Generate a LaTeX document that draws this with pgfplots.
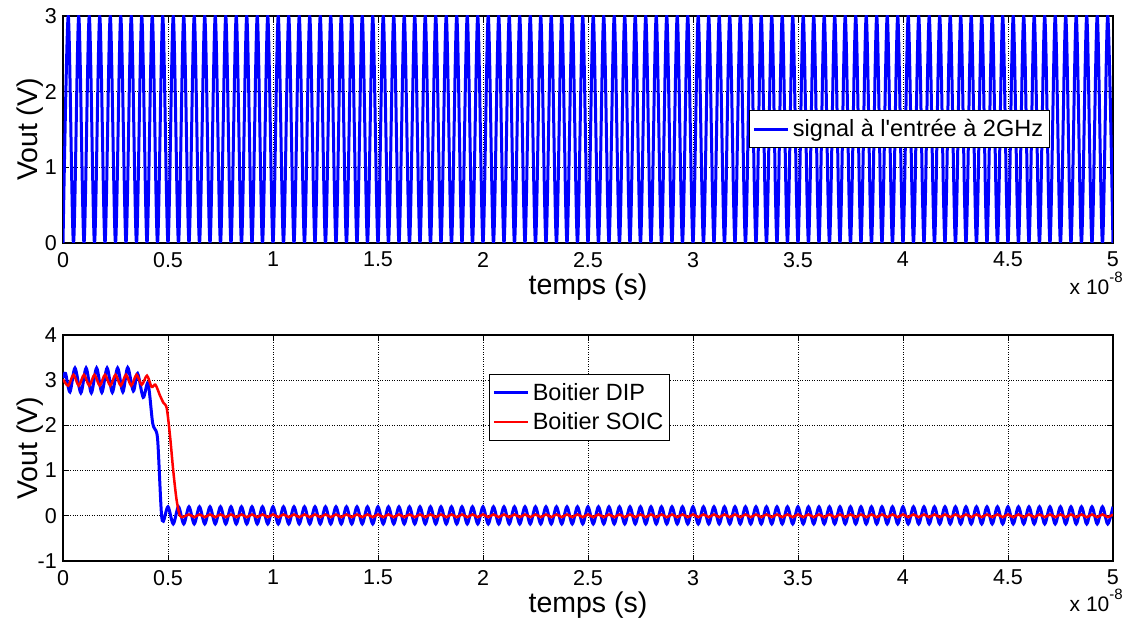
\documentclass[border=0pt]{standalone}
\usepackage{fontspec}
\setmainfont{Liberation Sans}
\usepackage{pgfplots}
\pgfplotsset{compat=1.18}
\definecolor{mblue}{RGB}{0,0,255}
\definecolor{mred}{RGB}{255,0,0}
\pgfplotsset{
  mystyle/.style={
    scale only axis, width=1050pt,
    xmin=0, xmax=5, xtick={0,0.5,1,1.5,2,2.5,3,3.5,4,4.5,5},
    grid=major, major grid style={black, dotted, line width=0.7pt},
    tick align=inside, major tick length=6pt,
    tick style={black, line width=0.8pt},
    axis line style={black, line width=1.2pt},
    tick label style={font=\fontsize{21.5}{25}\selectfont},
    /pgf/number format/assume math mode=true,
    xticklabel style={inner sep=0pt}, yticklabel style={inner sep=0pt},
    xticklabel shift=9pt, yticklabel shift=6pt,
    xlabel={temps (s)}, ylabel={Vout (V)},
    every axis x label/.style={at={(axis description cs:0.5,0)}, anchor=center, yshift=-44pt, font=\fontsize{28.5}{32}\selectfont},
    every axis y label/.style={at={(axis description cs:0,0.5)}, xshift=-33pt, rotate=90, anchor=center, font=\fontsize{28.5}{32}\selectfont},
    legend cell align=left,
    legend style={draw=black, line width=0.8pt, fill=white, font=\fontsize{23.5}{27}\selectfont, anchor=center, inner xsep=3pt, inner ysep=5.5pt, row sep=4pt, nodes={inner sep=3.5pt}},
    legend image code/.code={\draw[#1] (0pt,0pt) -- (34pt,0pt);},
  }
}
\begin{document}
\begin{tikzpicture}
\useasboundingbox (0,0) rectangle (1129pt,621pt);
\begin{axis}[mystyle, name=top, at={(63pt,378pt)}, anchor=south west, height=227pt,
  ymin=0, ymax=3, ytick={0,1,2,3},
  legend style={at={(axis description cs:0.7967,0.502)}}]
\addplot[mblue, line width=3pt, smooth] coordinates {
(0,0)(0.025,3)(0.05,0)(0.075,3)(0.1,0)(0.125,3)(0.15,0)(0.175,3)(0.2,0)(0.225,3)(0.25,0)(0.275,3)(0.3,0)(0.325,3)(0.35,0)(0.375,3)(0.4,0)(0.425,3)(0.45,0)(0.475,3)
(0.5,0)(0.525,3)(0.55,0)(0.575,3)(0.6,0)(0.625,3)(0.65,0)(0.675,3)(0.7,0)(0.725,3)(0.75,0)(0.775,3)(0.8,0)(0.825,3)(0.85,0)(0.875,3)(0.9,0)(0.925,3)(0.95,0)(0.975,3)
(1,0)(1.025,3)(1.05,0)(1.075,3)(1.1,0)(1.125,3)(1.15,0)(1.175,3)(1.2,0)(1.225,3)(1.25,0)(1.275,3)(1.3,0)(1.325,3)(1.35,0)(1.375,3)(1.4,0)(1.425,3)(1.45,0)(1.475,3)
(1.5,0)(1.525,3)(1.55,0)(1.575,3)(1.6,0)(1.625,3)(1.65,0)(1.675,3)(1.7,0)(1.725,3)(1.75,0)(1.775,3)(1.8,0)(1.825,3)(1.85,0)(1.875,3)(1.9,0)(1.925,3)(1.95,0)(1.975,3)
(2,0)(2.025,3)(2.05,0)(2.075,3)(2.1,0)(2.125,3)(2.15,0)(2.175,3)(2.2,0)(2.225,3)(2.25,0)(2.275,3)(2.3,0)(2.325,3)(2.35,0)(2.375,3)(2.4,0)(2.425,3)(2.45,0)(2.475,3)
(2.5,0)(2.525,3)(2.55,0)(2.575,3)(2.6,0)(2.625,3)(2.65,0)(2.675,3)(2.7,0)(2.725,3)(2.75,0)(2.775,3)(2.8,0)(2.825,3)(2.85,0)(2.875,3)(2.9,0)(2.925,3)(2.95,0)(2.975,3)
(3,0)(3.025,3)(3.05,0)(3.075,3)(3.1,0)(3.125,3)(3.15,0)(3.175,3)(3.2,0)(3.225,3)(3.25,0)(3.275,3)(3.3,0)(3.325,3)(3.35,0)(3.375,3)(3.4,0)(3.425,3)(3.45,0)(3.475,3)
(3.5,0)(3.525,3)(3.55,0)(3.575,3)(3.6,0)(3.625,3)(3.65,0)(3.675,3)(3.7,0)(3.725,3)(3.75,0)(3.775,3)(3.8,0)(3.825,3)(3.85,0)(3.875,3)(3.9,0)(3.925,3)(3.95,0)(3.975,3)
(4,0)(4.025,3)(4.05,0)(4.075,3)(4.1,0)(4.125,3)(4.15,0)(4.175,3)(4.2,0)(4.225,3)(4.25,0)(4.275,3)(4.3,0)(4.325,3)(4.35,0)(4.375,3)(4.4,0)(4.425,3)(4.45,0)(4.475,3)
(4.5,0)(4.525,3)(4.55,0)(4.575,3)(4.6,0)(4.625,3)(4.65,0)(4.675,3)(4.7,0)(4.725,3)(4.75,0)(4.775,3)(4.8,0)(4.825,3)(4.85,0)(4.875,3)(4.9,0)(4.925,3)(4.95,0)(4.975,3)
(5,0)};
\addlegendentry{signal à l\textquotesingle entrée à 2GHz}
\end{axis}
\node[anchor=north east, inner sep=0pt, font=\fontsize{21}{24}\selectfont] at ([xshift=10pt,yshift=-29pt]top.south east) {x 10\raisebox{12pt}{\fontsize{15}{17}\selectfont -8}};

\begin{axis}[mystyle, name=bot, at={(63pt,60pt)}, anchor=south west, height=226pt,
  ymin=-1, ymax=4, ytick={-1,0,1,2,3,4},
  legend style={at={(axis description cs:0.492,0.681)}}]
\addplot[mblue, line width=3pt, smooth] coordinates {
(0,3.05)(0.012,3.15)(0.033,2.74)(0.057,3.27)(0.085,2.72)(0.11,3.27)(0.135,2.72)(0.16,3.27)(0.185,2.73)(0.21,3.27)(0.235,2.73)(0.26,3.27)(0.285,2.74)(0.308,3.28)(0.335,2.76)(0.355,3.15)(0.382,2.62)(0.405,2.93)(0.427,2.05)(0.443,1.88)(0.452,1.6)(0.468,0.1)(0.478,-0.12)
(0.5,0.2)(0.525,-0.18)(0.55,0.2)(0.575,-0.18)(0.6,0.2)(0.625,-0.18)(0.65,0.2)(0.675,-0.18)(0.7,0.2)(0.725,-0.18)(0.75,0.2)(0.775,-0.18)(0.8,0.2)(0.825,-0.18)(0.85,0.2)(0.875,-0.18)(0.9,0.2)(0.925,-0.18)(0.95,0.2)(0.975,-0.18)
(1,0.2)(1.025,-0.18)(1.05,0.2)(1.075,-0.18)(1.1,0.2)(1.125,-0.18)(1.15,0.2)(1.175,-0.18)(1.2,0.2)(1.225,-0.18)(1.25,0.2)(1.275,-0.18)(1.3,0.2)(1.325,-0.18)(1.35,0.2)(1.375,-0.18)(1.4,0.2)(1.425,-0.18)(1.45,0.2)(1.475,-0.18)
(1.5,0.2)(1.525,-0.18)(1.55,0.2)(1.575,-0.18)(1.6,0.2)(1.625,-0.18)(1.65,0.2)(1.675,-0.18)(1.7,0.2)(1.725,-0.18)(1.75,0.2)(1.775,-0.18)(1.8,0.2)(1.825,-0.18)(1.85,0.2)(1.875,-0.18)(1.9,0.2)(1.925,-0.18)(1.95,0.2)(1.975,-0.18)
(2,0.2)(2.025,-0.18)(2.05,0.2)(2.075,-0.18)(2.1,0.2)(2.125,-0.18)(2.15,0.2)(2.175,-0.18)(2.2,0.2)(2.225,-0.18)(2.25,0.2)(2.275,-0.18)(2.3,0.2)(2.325,-0.18)(2.35,0.2)(2.375,-0.18)(2.4,0.2)(2.425,-0.18)(2.45,0.2)(2.475,-0.18)
(2.5,0.2)(2.525,-0.18)(2.55,0.2)(2.575,-0.18)(2.6,0.2)(2.625,-0.18)(2.65,0.2)(2.675,-0.18)(2.7,0.2)(2.725,-0.18)(2.75,0.2)(2.775,-0.18)(2.8,0.2)(2.825,-0.18)(2.85,0.2)(2.875,-0.18)(2.9,0.2)(2.925,-0.18)(2.95,0.2)(2.975,-0.18)
(3,0.2)(3.025,-0.18)(3.05,0.2)(3.075,-0.18)(3.1,0.2)(3.125,-0.18)(3.15,0.2)(3.175,-0.18)(3.2,0.2)(3.225,-0.18)(3.25,0.2)(3.275,-0.18)(3.3,0.2)(3.325,-0.18)(3.35,0.2)(3.375,-0.18)(3.4,0.2)(3.425,-0.18)(3.45,0.2)(3.475,-0.18)
(3.5,0.2)(3.525,-0.18)(3.55,0.2)(3.575,-0.18)(3.6,0.2)(3.625,-0.18)(3.65,0.2)(3.675,-0.18)(3.7,0.2)(3.725,-0.18)(3.75,0.2)(3.775,-0.18)(3.8,0.2)(3.825,-0.18)(3.85,0.2)(3.875,-0.18)(3.9,0.2)(3.925,-0.18)(3.95,0.2)(3.975,-0.18)
(4,0.2)(4.025,-0.18)(4.05,0.2)(4.075,-0.18)(4.1,0.2)(4.125,-0.18)(4.15,0.2)(4.175,-0.18)(4.2,0.2)(4.225,-0.18)(4.25,0.2)(4.275,-0.18)(4.3,0.2)(4.325,-0.18)(4.35,0.2)(4.375,-0.18)(4.4,0.2)(4.425,-0.18)(4.45,0.2)(4.475,-0.18)
(4.5,0.2)(4.525,-0.18)(4.55,0.2)(4.575,-0.18)(4.6,0.2)(4.625,-0.18)(4.65,0.2)(4.675,-0.18)(4.7,0.2)(4.725,-0.18)(4.75,0.2)(4.775,-0.18)(4.8,0.2)(4.825,-0.18)(4.85,0.2)(4.875,-0.18)(4.9,0.2)(4.925,-0.18)(4.95,0.2)(4.975,-0.18)
(5,0.2)};
\addlegendentry{Boitier DIP}
\addplot[mred, line width=2.5pt, smooth] coordinates {
(0,3.02)(0.025,2.88)(0.05,3.12)(0.075,2.88)(0.1,3.12)(0.125,2.88)(0.15,3.12)(0.175,2.88)(0.2,3.12)(0.225,2.88)(0.25,3.12)(0.275,2.88)(0.3,3.12)(0.325,2.88)(0.35,3.12)(0.375,2.9)(0.4,3.1)(0.422,2.85)(0.44,2.9)(0.462,2.66)(0.478,2.5)(0.494,2.38)(0.51,1.75)(0.525,1.0)(0.541,0.35)(0.557,0.0)(0.575,-0.02)
(0.6,0.03)(0.625,-0.03)(0.65,0.03)(0.675,-0.03)(0.7,0.03)(0.725,-0.03)(0.75,0.03)(0.775,-0.03)(0.8,0.03)(0.825,-0.03)(0.85,0.03)(0.875,-0.03)(0.9,0.03)(0.925,-0.03)(0.95,0.03)(0.975,-0.03)
(1,0.03)(1.025,-0.03)(1.05,0.03)(1.075,-0.03)(1.1,0.03)(1.125,-0.03)(1.15,0.03)(1.175,-0.03)(1.2,0.03)(1.225,-0.03)(1.25,0.03)(1.275,-0.03)(1.3,0.03)(1.325,-0.03)(1.35,0.03)(1.375,-0.03)(1.4,0.03)(1.425,-0.03)(1.45,0.03)(1.475,-0.03)
(1.5,0.03)(1.525,-0.03)(1.55,0.03)(1.575,-0.03)(1.6,0.03)(1.625,-0.03)(1.65,0.03)(1.675,-0.03)(1.7,0.03)(1.725,-0.03)(1.75,0.03)(1.775,-0.03)(1.8,0.03)(1.825,-0.03)(1.85,0.03)(1.875,-0.03)(1.9,0.03)(1.925,-0.03)(1.95,0.03)(1.975,-0.03)
(2,0.03)(2.025,-0.03)(2.05,0.03)(2.075,-0.03)(2.1,0.03)(2.125,-0.03)(2.15,0.03)(2.175,-0.03)(2.2,0.03)(2.225,-0.03)(2.25,0.03)(2.275,-0.03)(2.3,0.03)(2.325,-0.03)(2.35,0.03)(2.375,-0.03)(2.4,0.03)(2.425,-0.03)(2.45,0.03)(2.475,-0.03)
(2.5,0.03)(2.525,-0.03)(2.55,0.03)(2.575,-0.03)(2.6,0.03)(2.625,-0.03)(2.65,0.03)(2.675,-0.03)(2.7,0.03)(2.725,-0.03)(2.75,0.03)(2.775,-0.03)(2.8,0.03)(2.825,-0.03)(2.85,0.03)(2.875,-0.03)(2.9,0.03)(2.925,-0.03)(2.95,0.03)(2.975,-0.03)
(3,0.03)(3.025,-0.03)(3.05,0.03)(3.075,-0.03)(3.1,0.03)(3.125,-0.03)(3.15,0.03)(3.175,-0.03)(3.2,0.03)(3.225,-0.03)(3.25,0.03)(3.275,-0.03)(3.3,0.03)(3.325,-0.03)(3.35,0.03)(3.375,-0.03)(3.4,0.03)(3.425,-0.03)(3.45,0.03)(3.475,-0.03)
(3.5,0.03)(3.525,-0.03)(3.55,0.03)(3.575,-0.03)(3.6,0.03)(3.625,-0.03)(3.65,0.03)(3.675,-0.03)(3.7,0.03)(3.725,-0.03)(3.75,0.03)(3.775,-0.03)(3.8,0.03)(3.825,-0.03)(3.85,0.03)(3.875,-0.03)(3.9,0.03)(3.925,-0.03)(3.95,0.03)(3.975,-0.03)
(4,0.03)(4.025,-0.03)(4.05,0.03)(4.075,-0.03)(4.1,0.03)(4.125,-0.03)(4.15,0.03)(4.175,-0.03)(4.2,0.03)(4.225,-0.03)(4.25,0.03)(4.275,-0.03)(4.3,0.03)(4.325,-0.03)(4.35,0.03)(4.375,-0.03)(4.4,0.03)(4.425,-0.03)(4.45,0.03)(4.475,-0.03)
(4.5,0.03)(4.525,-0.03)(4.55,0.03)(4.575,-0.03)(4.6,0.03)(4.625,-0.03)(4.65,0.03)(4.675,-0.03)(4.7,0.03)(4.725,-0.03)(4.75,0.03)(4.775,-0.03)(4.8,0.03)(4.825,-0.03)(4.85,0.03)(4.875,-0.03)(4.9,0.03)(4.925,-0.03)(4.95,0.03)(4.975,-0.03)
(5,0.03)};
\addlegendentry{Boitier SOIC}
\end{axis}
\node[anchor=north east, inner sep=0pt, font=\fontsize{21}{24}\selectfont] at ([xshift=10pt,yshift=-28pt]bot.south east) {x 10\raisebox{12pt}{\fontsize{15}{17}\selectfont -8}};
\end{tikzpicture}
\end{document}
